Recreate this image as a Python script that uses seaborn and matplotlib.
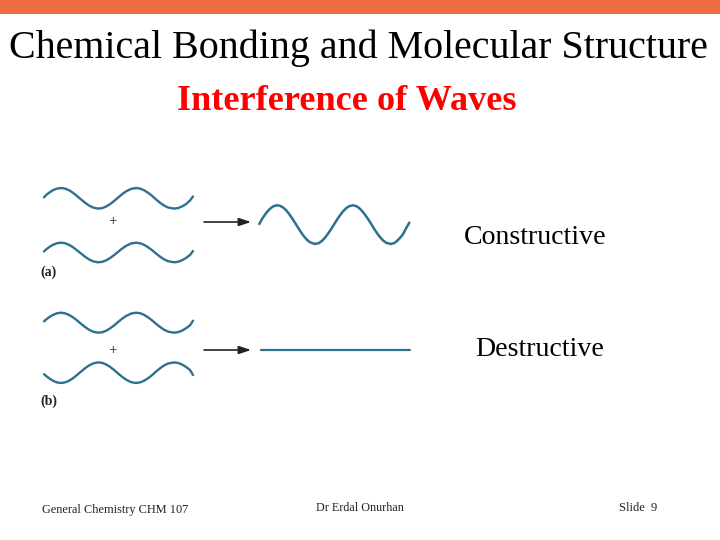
import matplotlib
matplotlib.use('Agg')
import matplotlib.pyplot as plt
import pandas as pd
import seaborn as sns

# wave traces, in picture pixels
input_x = [44, 47, 50, 53, 57, 61, 65, 69, 73, 77, 81, 85, 89, 93, 98, 102, 106, 110, 114, 118, 122, 126, 131, 136, 140, 144, 148, 152, 156, 160, 164, 168, 174, 178, 182, 186, 190, 193]
a_top = [197.3, 194.3, 192.1, 190.2, 188.6, 188, 188.6, 190.2, 192.8, 196, 199.4, 202.7, 205.5, 207.5, 208.6, 208.2, 206.6, 204.2, 201.1, 197.6, 194.3, 191.4, 188.9, 188, 188.6, 190.2, 192.7, 195.8, 199.4, 202.7, 205.5, 207.5, 208.6, 208.1, 206.5, 204.1, 200.5, 196.5]
a_bottom = [251.5, 248.7, 246.6, 244.8, 243.2, 242.7, 243.2, 244.8, 247.2, 250.3, 253.5, 256.7, 259.4, 261.3, 262.3, 261.9, 260.4, 258.1, 255.2, 251.9, 248.7, 245.9, 243.5, 242.7, 243.2, 244.8, 247.2, 250.1, 253.5, 256.6, 259.3, 261.2, 262.3, 261.8, 260.3, 258, 255, 251]
b_top = [321.3, 318.8, 316.7, 314.9, 313.3, 312.7, 313.3, 314.9, 317.3, 320.4, 323.8, 327, 329.7, 331.7, 332.7, 332.3, 330.8, 328.4, 325.5, 322.1, 318.8, 316, 313.6, 312.7, 313.2, 314.8, 317.3, 320.3, 323.8, 326.9, 329.7, 331.6, 332.7, 332.2, 330.7, 328.3, 325.3, 320.7]
b_bottom = [374.2, 376.7, 378.9, 380.8, 382.4, 383, 382.4, 380.8, 378.2, 375, 371.6, 368.3, 365.5, 363.5, 362.4, 362.8, 364.4, 366.8, 369.9, 373.4, 376.7, 379.6, 382.1, 383, 382.4, 380.8, 378.3, 375.2, 371.6, 368.3, 365.5, 363.5, 362.4, 362.9, 364.5, 366.9, 370, 375]

sum_x = [259.3, 262, 265, 268, 271, 274, 277.3, 280, 283, 286, 289, 292, 295, 298, 301, 304, 307, 310, 315, 319, 322, 325, 328, 331, 334, 337, 340, 343, 346, 349, 352.7, 356, 359, 362, 365, 368, 371, 374, 377, 380, 383, 386, 390.7, 394, 397, 400, 403, 406, 409.3]
sum_y = [224, 219, 214.6, 210.8, 207.9, 206, 205.3, 205.8, 207.4, 210.1, 213.8, 218.1, 222.8, 227.6, 232.2, 236.4, 239.8, 242.3, 244, 243, 240.9, 237.7, 233.7, 229.3, 224.5, 219.7, 215.3, 211.4, 208.3, 206.3, 205.3, 206, 207.9, 210.9, 214.7, 219, 223.6, 228.6, 233.1, 237.1, 240.4, 242.7, 244, 243.2, 241, 237.9, 234.2, 228.5, 222.7]
flat_x = [261, 335, 410]
flat_y = [350, 350, 350]

plus_labels = ['+', '+']
wave_labels = ['Constructive', 'Destructive']
panel_labels = ['(a)', '(b)']

sns.set_theme(style='white')
plt.rcParams['font.family'] = ['Liberation Serif', 'DejaVu Serif']

wave_color = '#2f6f8f'

fig = plt.figure(figsize=(7.2, 5.4), dpi=100)
ax = fig.add_axes([0, 0, 1, 1])

for ys in [a_top, a_bottom, b_top, b_bottom]:
    df = pd.DataFrame({'x': input_x, 'y': ys})
    sns.lineplot(data=df, x='x', y='y', sort=False, estimator=None, color=wave_color, lw=1.7, ax=ax)
sns.lineplot(x=sum_x, y=sum_y, sort=False, estimator=None, color=wave_color, lw=1.8, ax=ax)
sns.lineplot(x=flat_x, y=flat_y, sort=False, estimator=None, color=wave_color, lw=1.6, ax=ax)

ax.set_xlim(0, 720)
ax.set_ylim(540, 0)
ax.axis('off')

ax.axhspan(0, 14, color='#ee6c3f', lw=0)

# arrows
for y in [222, 350]:
    ax.annotate('', xy=(251, y), xytext=(204, y),
                arrowprops=dict(arrowstyle='-|>,head_length=0.6,head_width=0.2', color='#222222', lw=1.2,
                                shrinkA=0, shrinkB=0))

ax.text(358.5, 48, 'Chemical Bonding and Molecular Structure', fontsize=28.8, color='black', ha='center', va='center')
ax.text(346.5, 101, 'Interference of Waves', fontsize=26.1, fontweight='bold', color='#ff0000', ha='center', va='center')

ax.text(535, 237, wave_labels[0], fontsize=20.1, color='black', ha='center', va='center')
ax.text(540, 349, wave_labels[1], fontsize=20.1, color='black', ha='center', va='center')

ax.text(113, 221, plus_labels[0], fontsize=7.5, color='#333333', ha='center', va='center', family='DejaVu Sans')
ax.text(113, 350, plus_labels[1], fontsize=7.5, color='#333333', ha='center', va='center', family='DejaVu Sans')
ax.text(48.5, 272, panel_labels[0], fontsize=10, fontweight='bold', color='#222222', ha='center', va='center')
ax.text(49, 401, panel_labels[1], fontsize=10, fontweight='bold', color='#222222', ha='center', va='center')

ax.text(42, 510, 'General Chemistry CHM 107', fontsize=8.8, color='#222222', ha='left', va='center')
ax.text(360, 508, 'Dr Erdal Onurhan', fontsize=8.7, color='#222222', ha='center', va='center')
ax.text(638, 508, 'Slide  9', fontsize=9, color='#222222', ha='center', va='center')

fig.savefig('out.png', dpi=100)
